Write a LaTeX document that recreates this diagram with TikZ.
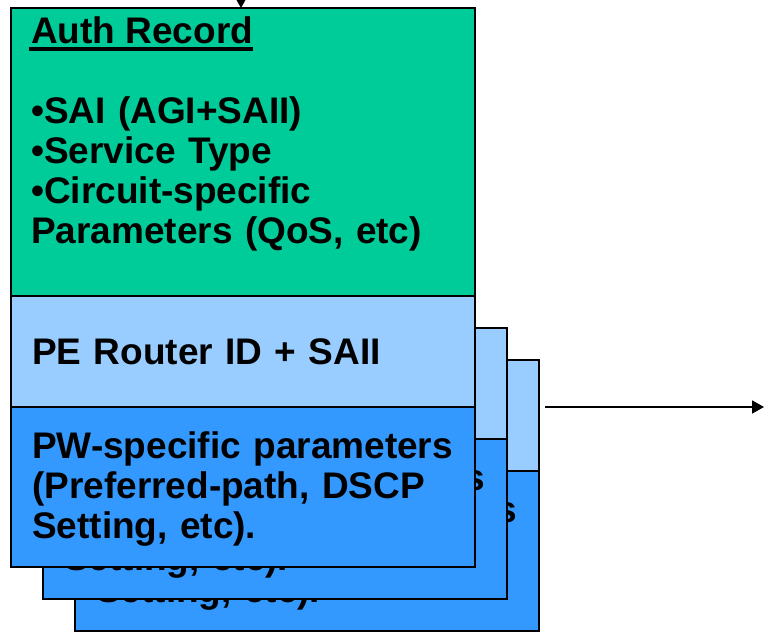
\documentclass[tikz,border=0pt]{standalone}
\usepackage{fontspec}
\setmainfont{Liberation Sans}
\usetikzlibrary{arrows.meta,positioning,calc}

\definecolor{authgreen}{HTML}{00CC99}
\definecolor{routerblue}{HTML}{99CCFF}
\definecolor{paramblue}{HTML}{3399FF}

\begin{document}
\begin{tikzpicture}[x=1pt,y=-1pt,
    sect/.style={draw, line width=2pt, anchor=north west, minimum width=464pt, inner sep=0pt, outer sep=0pt},
    rectext/.style={anchor=base west, inner sep=0pt, text width=440pt, align=left,
      font=\fontsize{37}{40}\selectfont\bfseries},
    conn/.style={-{Triangle[length=12pt,width=13pt]}, line width=1.8pt}]
  \useasboundingbox (0,0) rectangle (764,632);

  % Records stacked behind the front one
  \foreach \d/\n in {64/3, 32/2} {
    \node[sect, fill=routerblue, minimum height=111pt] (peid\n) at (11+\d,296+\d) {};
    \node[sect, fill=paramblue, minimum height=160pt] (pwparm\n) at (peid\n.south west) {};
    \node[rectext] (peidtext\n) at ($(peid\n.north west)+(21,68)$) {PE Router ID + SAII};
    \node[rectext] (pwtext\n) at ($(pwparm\n.north west)+(21,51)$)
      {PW-specific parameters\\(Preferred-path, DSCP\\Setting, etc).};
  }

  % Front record
  \node[sect, fill=authgreen, minimum height=288pt] (auth) at (11,8) {};
  \node[sect, fill=routerblue, minimum height=111pt] (peid) at (auth.south west) {};
  \node[sect, fill=paramblue, minimum height=160pt] (pwparm) at (peid.south west) {};

  % Auth record text
  \node[rectext, text width=] (authtitle) at ($(auth.north west)+(20,35)$) {Auth Record};
  \draw[line width=3.5pt] ($(authtitle.base west)+(-2,6)$) -- ($(authtitle.base east)+(0,6)$);
  \node[rectext] (authlist) at ($(auth.north west)+(20,115)$)
    {•SAI (AGI+SAII)\\•Service Type\\•Circuit-specific\\Parameters (QoS, etc)};

  \node[rectext] (peidtext) at ($(peid.north west)+(21,68)$) {PE Router ID + SAII};
  \node[rectext] (pwtext) at ($(pwparm.north west)+(21,51)$)
    {PW-specific parameters\\(Preferred-path, DSCP\\Setting, etc).};

  % In and out arrows
  \coordinate (in) at (241,0);
  \coordinate (out) at (764,407);
  \draw[conn] (in) -- (in |- auth.north);
  \draw[conn] ($(peid3.east |- pwparm.north)+(6,0)$) -- (out);
\end{tikzpicture}
\end{document}
